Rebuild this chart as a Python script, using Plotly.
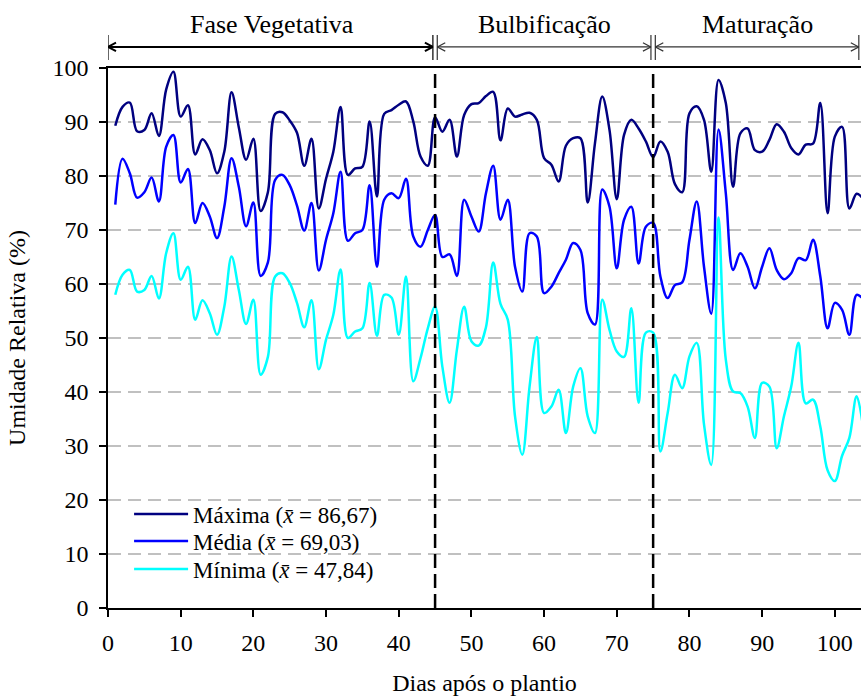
import plotly.graph_objects as go

# Daily relative humidity (%) after planting
days = list(range(1, 105))

umid_max = [
    89.3, 92.8, 93.6, 88.3, 88.5, 91.6, 87.4, 96.0, 99.3, 91.0,
    93.1, 84.0, 86.8, 84.8, 80.5, 84.5, 95.5, 89.0, 83.0, 86.9,
    73.5, 77.0, 91.5, 91.8, 90.3, 88.0, 81.9, 86.9, 74.0, 79.5,
    84.5, 92.8, 80.2, 81.4, 81.7, 90.1, 76.2, 91.5, 92.2, 93.2,
    93.8, 90.1, 83.6, 81.9, 90.9, 88.2, 90.4, 83.6, 91.3, 93.3,
    93.5, 94.8, 95.6, 86.6, 92.5, 91.0, 91.4, 91.7, 90.4, 83.3,
    82.1, 79.0, 85.6, 87.0, 87.0, 75.1, 86.1, 94.7, 88.5, 75.7,
    87.6, 90.4, 88.8, 86.4, 83.5, 86.4, 84.5, 78.5, 77.0, 91.6,
    92.9, 90.4, 80.8, 97.8, 93.5, 78.0, 87.9, 88.8, 84.8, 84.5,
    86.7, 89.6, 88.2, 85.2, 84.0, 85.8, 86.0, 93.5, 73.1, 87.3,
    89.1, 74.0, 76.7, 75.6,
]

umid_med = [
    74.7, 83.2, 80.5, 76.0, 77.0, 79.7, 75.3, 85.4, 87.6, 78.8,
    81.3, 71.3, 75.0, 72.5, 68.5, 74.3, 83.3, 78.0, 70.7, 75.1,
    61.5, 64.0, 79.3, 80.2, 78.3, 74.5, 69.9, 75.0, 62.5, 68.2,
    73.1, 80.8, 68.0, 69.4, 70.0, 78.3, 63.2, 75.6, 76.8, 75.9,
    79.5, 68.8, 66.9, 70.0, 72.8, 65.0, 65.5, 61.5, 75.6, 72.5,
    69.7, 76.8, 81.9, 71.9, 75.6, 63.2, 58.6, 69.4, 68.8, 58.3,
    59.5, 62.0, 64.5, 67.6, 66.3, 54.6, 52.5, 77.5, 74.3, 62.9,
    71.9, 74.3, 63.8, 70.6, 71.3, 61.4, 57.4, 59.8, 60.3, 68.2,
    75.3, 63.2, 54.5, 88.6, 76.8, 62.6, 65.7, 63.2, 59.2, 63.2,
    66.6, 62.6, 60.9, 62.0, 64.8, 64.4, 68.2, 61.4, 51.8, 56.5,
    55.2, 50.6, 58.0, 57.1,
]

umid_min = [
    58.0, 61.7, 62.6, 58.6, 58.9, 61.5, 57.3, 65.7, 69.4, 60.8,
    63.2, 53.4, 57.0, 54.6, 50.6, 55.8, 65.1, 58.9, 52.6, 57.1,
    43.2, 46.5, 61.4, 62.0, 60.2, 56.5, 52.0, 57.0, 44.2, 49.7,
    54.3, 62.7, 50.0, 51.2, 51.8, 60.2, 50.4, 58.0, 57.5, 50.6,
    61.4, 42.0, 46.3, 51.8, 55.8, 44.7, 38.0, 47.8, 55.8, 49.4,
    48.6, 52.0, 64.0, 56.3, 53.4, 35.5, 28.4, 41.0, 50.2, 36.1,
    37.3, 40.4, 32.4, 41.0, 44.4, 35.5, 32.4, 57.1, 51.5, 47.5,
    46.5, 55.5, 38.0, 51.0, 51.0, 29.0, 36.1, 43.2, 40.7, 46.6,
    49.1, 34.0, 26.5, 72.3, 46.0, 40.1, 39.8, 37.3, 31.5, 41.7,
    41.0, 29.6, 35.5, 41.0, 49.1, 37.9, 38.6, 33.6, 25.5, 23.5,
    28.2, 31.5, 39.2, 32.4,
]

series_names = ["Máxima", "Média", "Mínima"]
series_means = ["86,67", "69,03", "47,84"]
series_colors = ["#000080", "#0000ff", "#00ffff"]

# Crop phases (days after planting)
phase_names = ["Fase Vegetativa", "Bulbificação", "Maturação"]
phase_start = [0, 45, 75]
phase_end = [45, 75, 103.6]

x_ticks = list(range(0, 101, 10))
y_ticks = list(range(0, 101, 10))

X_MAX = 103.6
FONT = "'Liberation Serif', 'Times New Roman', Times, serif"

# one legend box per series so the rows keep a tight spacing
legend_ids = ["legend", "legend2", "legend3"]
legend_tops = [0.214, 0.164, 0.112]

fig = go.Figure()
for name, mean, color, vals, lg in zip(series_names, series_means, series_colors,
                                       [umid_max, umid_med, umid_min], legend_ids):
    fig.add_trace(go.Scatter(
        x=days, y=vals, mode="lines",
        name=f"{name} (<i>x\u0304</i> = {mean})",
        legend=lg,
        line=dict(color=color, width=2.5, shape="spline", smoothing=1.0),
    ))

shapes = []
# phase boundaries inside the plot
for b in phase_start[1:]:
    shapes.append(dict(type="line", xref="x", yref="paper", x0=b, x1=b, y0=0, y1=1,
                       line=dict(color="black", width=2.5, dash="14px,6px")))

# phase arrows above the plot
y_arrow = 1.039
y_bar0, y_bar1 = 1.015, 1.061
head_dx, head_dy = 1.1, 0.0078
gap = 0.3
annotations = []
for i, (nm, s, e) in enumerate(zip(phase_names, phase_start, phase_end)):
    xs = s + (gap if i > 0 else 0)
    xe = e - gap
    w = 2 if i == 0 else 1.2
    col = "black" if i == 0 else "#333333"
    shapes.append(dict(type="line", xref="x", yref="paper", x0=xs, x1=xe,
                       y0=y_arrow, y1=y_arrow, line=dict(color=col, width=w)))
    for xb in (xs, xe):
        shapes.append(dict(type="line", xref="x", yref="paper", x0=xb, x1=xb,
                           y0=y_bar0, y1=y_bar1, line=dict(color=col, width=1.2)))
    for sign in (1, -1):
        shapes.append(dict(type="line", xref="x", yref="paper", x0=xs, x1=xs + head_dx,
                           y0=y_arrow, y1=y_arrow + sign * head_dy,
                           line=dict(color=col, width=w)))
        shapes.append(dict(type="line", xref="x", yref="paper", x0=xe, x1=xe - head_dx,
                           y0=y_arrow, y1=y_arrow + sign * head_dy,
                           line=dict(color=col, width=w)))
    annotations.append(dict(text=nm, xref="x", yref="paper", x=(s + e) / 2, y=1.081,
                            showarrow=False, yanchor="middle",
                            font=dict(family=FONT, size=26, color="black")))

legend_style = dict(x=0.028, xanchor="left", yanchor="top",
                    bgcolor="rgba(0,0,0,0)", font=dict(family=FONT, size=23),
                    itemwidth=54)

fig.update_layout(
    width=861, height=698,
    margin=dict(l=108, r=0, t=68, b=90),
    paper_bgcolor="white", plot_bgcolor="white",
    font=dict(family=FONT, size=22, color="black"),
    shapes=shapes, annotations=annotations,
    showlegend=True,
    legend=dict(y=legend_tops[0], **legend_style),
    legend2=dict(y=legend_tops[1], **legend_style),
    legend3=dict(y=legend_tops[2], **legend_style),
    xaxis=dict(range=[0, X_MAX], tickvals=x_ticks, ticktext=[str(v) for v in x_ticks],
               showline=True, linecolor="black", linewidth=1.5, mirror=True,
               ticks="outside", ticklen=7, tickwidth=1.5, tickcolor="black",
               showgrid=False, zeroline=False, ticklabelstandoff=5,
               tickfont=dict(family=FONT, size=24),
               title=dict(text="Dias após o plantio", standoff=20,
                          font=dict(family=FONT, size=24))),
    yaxis=dict(range=[0, 100], tickvals=y_ticks, ticktext=[str(v) for v in y_ticks],
               showline=True, linecolor="black", linewidth=1.5,
               ticks="outside", ticklen=7, tickwidth=1.5, tickcolor="black",
               showgrid=True, gridcolor="#c0c0c0", gridwidth=1.5, griddash="13px,7px",
               zeroline=False, ticklabelstandoff=6,
               tickfont=dict(family=FONT, size=24),
               title=dict(text="Umidade Relativa (%)", standoff=20,
                          font=dict(family=FONT, size=24))),
)

fig.write_html("out.html")
